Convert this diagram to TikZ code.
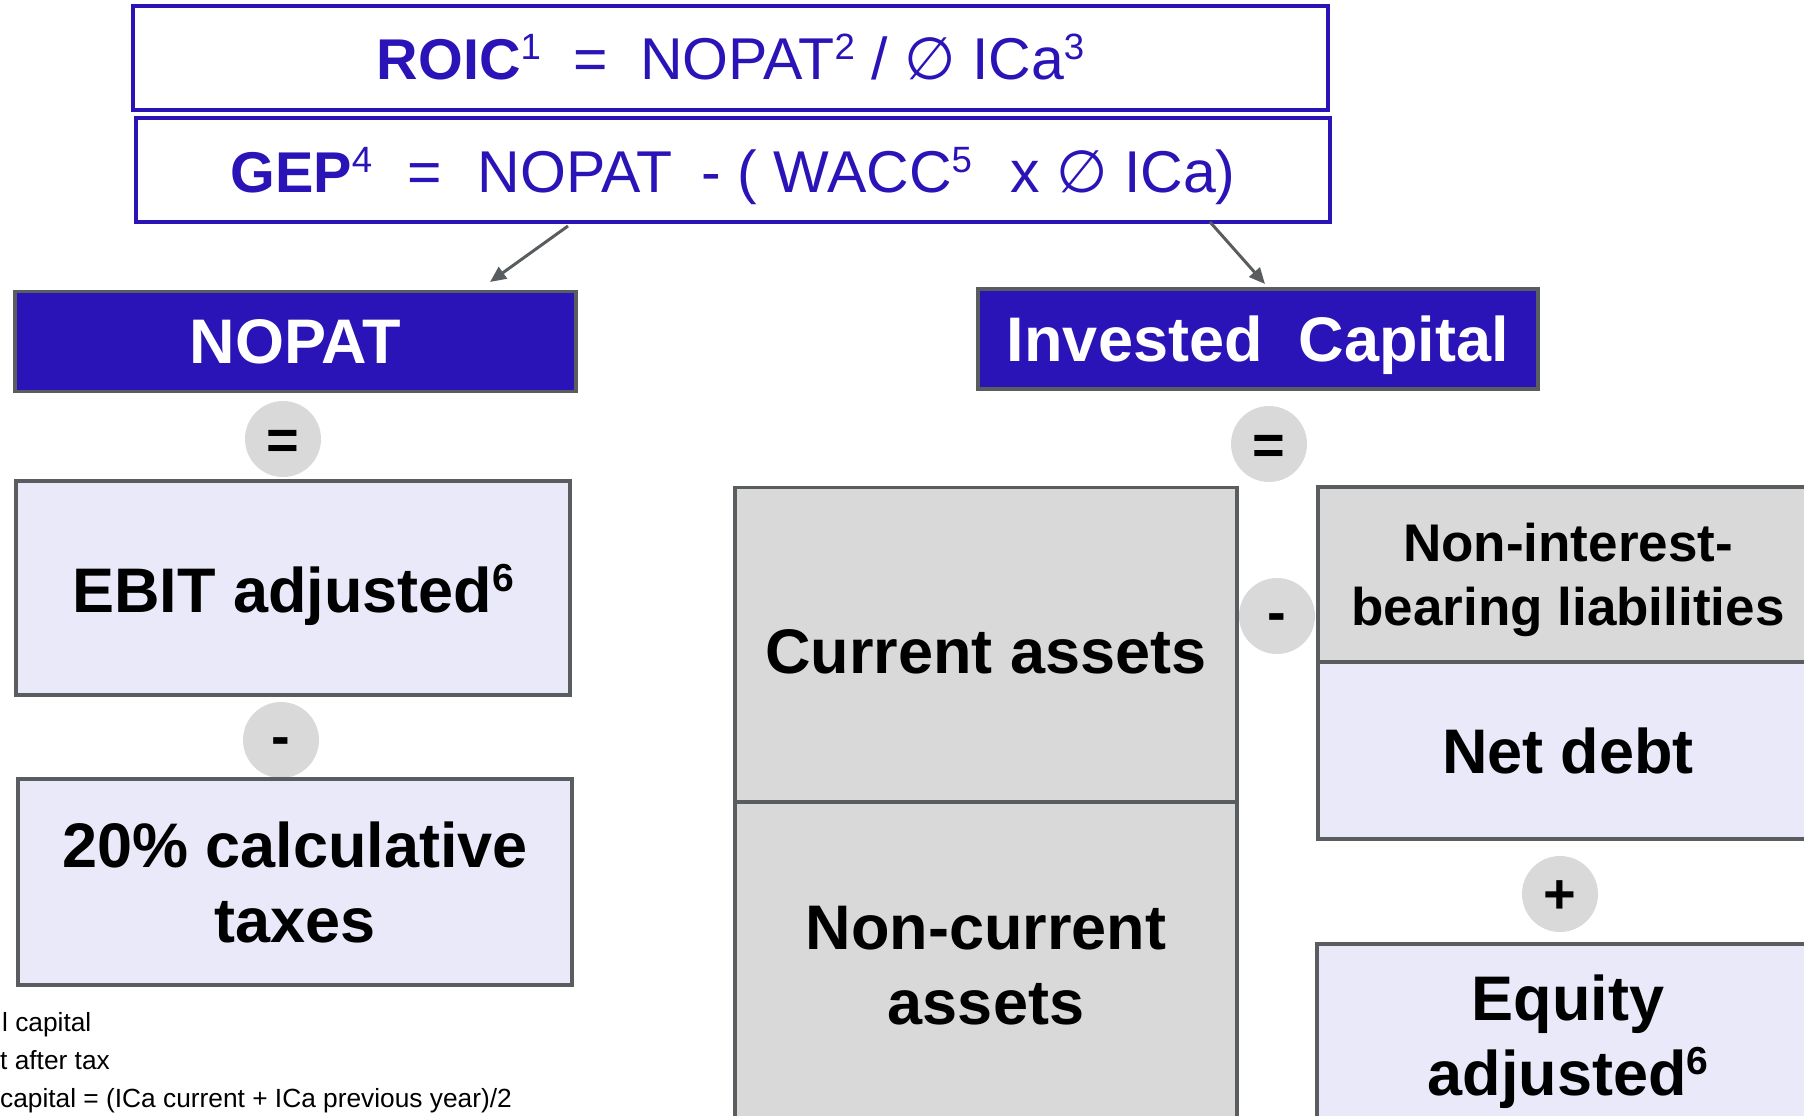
\documentclass[tikz,border=0pt]{standalone}
\usepackage{fontspec}
\setmainfont{Liberation Sans}
\newfontfamily\dejavu{DejaVu Sans}
\usetikzlibrary{arrows.meta}
\definecolor{ebblue}{HTML}{2A14B8}
\definecolor{edgegray}{HTML}{595D60}
\definecolor{lav}{HTML}{EAE9FA}
\definecolor{lgray}{HTML}{D9D9D9}
\newcommand\myup[1]{\raisebox{0.33em}{\scalebox{0.62}{#1}}}
\newcommand\fs[2]{\fontsize{#1}{#2}\selectfont}
\newcommand\bfs[1]{{\fontsize{57.5}{60}\selectfont\bfseries #1}}
\begin{document}
\begin{tikzpicture}[x=1pt,y=-1pt,
  formbox/.style={draw=ebblue, line width=4pt, fill=white, inner sep=0pt, text=ebblue, font=\fs{59}{62}},
  headbox/.style={draw=edgegray, line width=3.5pt, fill=ebblue, text=white, font=\fs{63}{70}\bfseries, inner sep=0pt},
  lavbox/.style={draw=edgegray, line width=3.5pt, fill=lav, font=\fs{63}{75}\bfseries, align=center, inner sep=0pt},
  graybox/.style={draw=edgegray, line width=3.5pt, fill=lgray, font=\fs{63}{75}\bfseries, align=center, inner sep=0pt},
  opcirc/.style={circle, fill=lgray, minimum size=76pt, inner sep=0pt, font=\fs{56}{60}\bfseries, text depth=0pt},
  conn/.style={draw=edgegray, line width=3pt, -{Triangle[length=16pt,width=14pt]}},
  note/.style={anchor=base west, font=\fs{26.3}{30}, inner sep=0pt}
]
\useasboundingbox (0,0) rectangle (1804,1116);
\clip (0,0) rectangle (1804,1116);

% formulas
\node[formbox, minimum width=1195pt, minimum height=104pt, text height=42pt, text depth=0pt] (roic) at (730.5,58)
  {\bfs{ROIC}\myup{1}\hspace{0.55em}=\hspace{0.55em}NOPAT\myup{2} / {\dejavu ∅} ICa\myup{3}};
\node[formbox, minimum width=1194pt, minimum height=104pt, text height=44pt, text depth=0pt] (gep) at (733,170)
  {\bfs{GEP}\myup{4}\hspace{0.6em}=\hspace{0.6em}NOPAT\hspace{0.5em}- ( WACC\myup{5}\hspace{0.65em}x {\dejavu ∅} ICa)};

% connector ends
\coordinate (a1s) at (568,226);
\coordinate (a1e) at (490,282);
\coordinate (a2s) at (1210,222);
\coordinate (a2e) at (1265,284);
\draw[conn] (a1s) -- (a1e);
\draw[conn] (a2s) -- (a2e);

% left column
\node[headbox, minimum width=561pt, minimum height=100pt] (nopat) at (295.5,341.5) {NOPAT};
\node[opcirc, text height=40pt] (eq1) at (283,439) {=};
\node[lavbox, minimum width=554pt, minimum height=214pt, text depth=0pt] (ebit) at (293,588) {EBIT adjusted\myup{6}};
\node[opcirc, text height=31pt] (mi1) at (281,740) {-};
\node[lavbox, minimum width=554pt, minimum height=206pt] (tax) at (295,882) {20\% calculative\\taxes};

% footnotes
\node[note] (fn1) at (2,1031) {l capital};
\node[note] (fn2) at (0,1069) {t after tax};
\node[note] (fn3) at (0,1107) {capital = (ICa current + ICa previous year)/2};

% right part
\node[headbox, minimum width=560pt, minimum height=100pt, text depth=0pt] (ic) at (1258,339) {Invested\hspace{0.3em} Capital};
\node[opcirc, text height=40pt] (eq2) at (1269,444) {=};
\node[graybox, minimum width=502pt, minimum height=315pt, text height=57pt, text depth=0pt] (ca) at (986,645) {Current assets};
\node[graybox, minimum width=502pt, minimum height=328pt] (nca) at (986,966) {Non-current\\assets};
\node[opcirc, text height=31pt] (mi2) at (1277,616) {-};
\node[graybox, minimum width=500pt, minimum height=175pt, font=\fs{53}{64}\bfseries, text depth=0pt] (nibl) at (1568,574.5) {Non-interest-\\bearing liabilities};
\node[lavbox, minimum width=500pt, minimum height=177pt] (nd) at (1568,750.5) {Net debt};
\node[opcirc, text height=38pt] (pl) at (1560,894) {+};
\node[lavbox, minimum width=502pt, minimum height=182pt, text depth=0pt] (eq) at (1568,1035) {Equity\\adjusted\myup{6}};
\end{tikzpicture}
\end{document}
